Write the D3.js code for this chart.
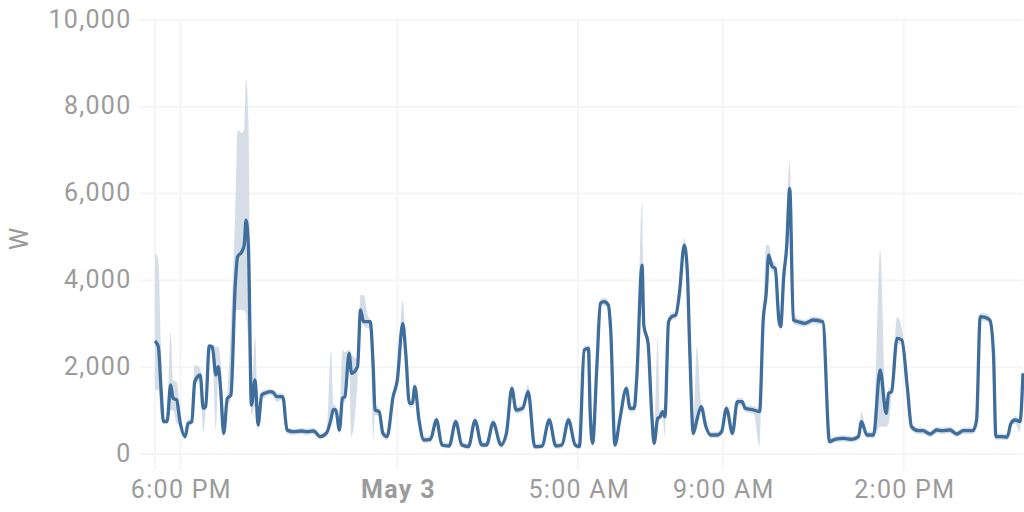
<!DOCTYPE html>
<html>
<head>
<meta charset="utf-8">
<script src="https://cdn.jsdelivr.net/npm/d3@7"></script>
<style>
  html, body { margin: 0; padding: 0; background: #ffffff; }
  svg { display: block; font-family: Roboto, "Noto Sans", sans-serif; }
</style>
</head>
<body>
<svg id="chart" width="1024" height="512"></svg>
<script>
// ---- data ----
const startTime = "2024-05-02T17:18:00";
const spanMinutes = 1440;
const minutes = [0,5.5,10,14,20,26,30,36,41,50,55,61,66,75,80,84,90,95,101,105,109,114,120,126,133,137,144,148,151,155,160,166,171,177,182,191,196,202,212,219,229,243,252,263,274,285,292,296,300,306,311,315,322,326,336,341,346,354,357,362,365,372,378,385,395,402,411,416,422,427,431,438,446,457,467,476,488,499,509,520,531,542,550,561,574,583,592,599,610,619,630,642,654,665,675,686,697,704,712,719,722,726,733,739,745,752,756,763,771,782,788,795,799,808,811,818,824,828,834,838,842,846,852,857,864,870,878,883,887,893,899,906,914,922,932,940,948,958,966,974,979,993,1003,1009,1014,1018,1024,1029,1035,1038,1043,1048,1053,1059,1067,1078,1092,1108,1119,1128,1142,1156,1167,1172,1181,1192,1203,1213,1217,1222,1231,1239,1248,1255,1266,1274,1286,1297,1305,1319,1330,1341,1357,1363,1369,1377,1385,1391,1395,1405,1414,1420,1427,1435,1440];
const meanW = [2604,2470,1500,745,745,1590,1283,1244,783,400,707,745,1666,1820,1053,1090,2488,2470,1820,2011,1475,476,1283,1360,3855,4545,4660,4815,5391,4776,1129,1705,668,1360,1398,1436,1420,1320,1320,553,514,530,514,530,400,492,800,1030,1010,553,1283,1320,2320,1860,2011,3318,3048,3048,3048,2011,1014,975,476,400,1320,1705,3011,2320,1168,1168,1551,783,323,338,783,207,184,745,207,169,768,207,207,722,207,476,1513,1014,1053,1436,169,184,783,184,207,783,207,169,2396,2435,937,246,2011,3472,3509,3433,2857,207,783,1513,1053,1053,1705,4354,2957,2550,937,246,822,860,975,860,3048,3164,3203,3702,4815,4239,2473,476,783,1091,630,438,438,514,1053,476,1206,1206,1053,1014,975,3087,3702,4585,4316,4278,3087,2934,4085,4777,6122,3087,3048,3011,3087,3048,284,338,361,338,400,745,438,438,1935,937,1398,1436,2665,2627,1551,630,537,537,461,553,537,553,461,537,537,783,3164,3149,3087,2320,400,400,392,707,783,745,1860];
const minW = [1475,1475,900,700,700,1000,1000,700,650,330,620,680,1500,1700,480,1000,2400,2350,550,1800,900,400,1100,1250,3300,3318,3318,3300,3200,2500,900,1100,550,1250,1300,1360,1330,1200,1250,480,440,460,440,460,340,420,700,950,900,450,1200,1200,2100,400,1700,3100,2950,2900,2900,323,900,880,400,320,1200,1600,2900,2200,1080,1080,1450,700,260,270,700,150,130,650,150,110,680,150,150,640,150,400,1420,930,970,1350,110,120,700,120,140,700,140,110,2300,2350,850,180,1900,3380,3420,3350,2750,140,700,1420,970,970,1600,4200,2850,2450,850,180,740,780,850,400,2950,3080,3120,3600,4700,4100,2350,400,700,1000,550,370,370,440,970,400,1120,1120,970,930,169,2950,3600,4450,4200,4150,2980,2850,3980,4650,5950,3000,2960,2930,3000,2960,220,270,290,270,330,660,370,370,630,630,700,1350,2550,2500,1450,550,460,460,390,480,460,480,390,460,460,700,3080,3060,3000,2200,330,330,320,620,700,500,1760];
const maxW = [4630,4470,2500,850,800,2818,1700,1666,1100,470,800,820,2050,1980,1200,1200,2520,2500,2470,2470,2100,600,1400,3000,5500,7465,7400,7500,8656,7700,1500,2703,900,1450,1480,1500,1480,1400,1400,620,580,600,580,600,470,560,2396,1150,1100,700,2396,2350,2400,2300,2200,3663,3663,3150,3100,2100,1100,1060,560,480,1420,1800,3548,2450,1250,1250,1650,870,400,420,870,280,250,830,280,240,850,280,280,800,280,560,1600,1100,1140,1590,240,250,870,250,280,870,280,240,2480,2500,2473,320,2100,3560,3600,3520,2950,280,870,1600,1140,1140,1800,5813,3100,2650,1030,320,2672,950,1060,950,3150,3250,3290,3800,4970,4400,2600,560,2473,1180,710,510,510,590,1140,560,1290,1290,1140,1100,1060,3200,4815,4815,4450,4400,3200,3050,4200,5500,6720,3300,3130,3090,3170,3130,350,410,430,410,470,975,510,510,4700,1100,1500,1550,3164,2900,1900,710,610,610,530,630,610,630,530,610,610,870,3250,3230,3170,2430,470,470,460,790,870,830,1960];

const yTicks = [0, 2000, 4000, 6000, 8000, 10000];
const xTickTimes = ["2024-05-02T18:00:00", "2024-05-03T00:00:00", "2024-05-03T05:00:00", "2024-05-03T09:00:00", "2024-05-03T14:00:00"];
const xTickLabels = ["6:00 PM", "May 3", "5:00 AM", "9:00 AM", "2:00 PM"];
const xTickBold = [false, true, false, false, false];
const unitLabel = "W";

// ---- layout ----
const svg = d3.select("#chart");
const plot = { left: 155, right: 1023, top: 20, bottom: 454 };
const textColor = "#9b9b9b";
const gridColor = "#f5f5f5";
const lineColor = "#3f6e9c";
const bandColor = "#d3dce6";
const fontSize = 25;
const spacing = 1.3;

const t0 = new Date(startTime);
const toDate = m => new Date(t0.getTime() + m * 60000);
const data = minutes.map((m, i) => ({ t: toDate(m), mean: meanW[i], lo: minW[i], hi: maxW[i] }));

const x = d3.scaleTime().domain([t0, toDate(spanMinutes)]).range([plot.left, plot.right]);
const y = d3.scaleLinear().domain([0, 10000]).range([plot.bottom, plot.top]);

// horizontal grid
const gGrid = svg.append("g");
gGrid.selectAll("line.h").data(yTicks).join("line")
  .attr("x1", 139).attr("x2", plot.right)
  .attr("y1", d => y(d)).attr("y2", d => y(d))
  .attr("stroke", gridColor).attr("stroke-width", 2);

// vertical grid (left edge + ticks)
const vTimes = [t0].concat(xTickTimes.map(s => new Date(s)));
gGrid.selectAll("line.v").data(vTimes).join("line")
  .attr("x1", d => x(d)).attr("x2", d => x(d))
  .attr("y1", plot.top).attr("y2", 470)
  .attr("stroke", gridColor).attr("stroke-width", 2);

// y axis labels
const fmt = d3.format(",");
const yAxis = d3.axisLeft(y).tickValues(yTicks).tickFormat(fmt).tickSize(0).tickPadding(0);
const gy = svg.append("g").attr("transform", "translate(131.5,0)").call(yAxis);
gy.select(".domain").remove();
gy.selectAll("text").attr("fill", textColor).attr("font-size", fontSize)
  .attr("letter-spacing", spacing)
  .attr("font-family", "Roboto, sans-serif").attr("dy", "0.28em");

// x axis labels
const xAxis = d3.axisBottom(x)
  .tickValues(xTickTimes.map(s => new Date(s)))
  .tickFormat((d, i) => xTickLabels[i]).tickSize(0).tickPadding(0);
const gx = svg.append("g").attr("transform", "translate(0.6,498)").call(xAxis);
gx.select(".domain").remove();
gx.selectAll("text").attr("fill", textColor).attr("font-size", fontSize)
  .attr("letter-spacing", spacing)
  .attr("font-family", "Roboto, sans-serif").attr("dy", 0)
  .attr("font-weight", (d, i) => xTickBold[i] ? "bold" : "normal");

// unit label
svg.append("text").attr("transform", "translate(28,239) rotate(-90)")
  .attr("text-anchor", "middle").attr("fill", textColor).attr("font-size", fontSize)
  .text(unitLabel);

// band
const area = d3.area().x(d => x(d.t)).y0(d => y(d.lo)).y1(d => y(d.hi)).curve(d3.curveMonotoneX);
svg.append("path").datum(data).attr("d", area).attr("fill", bandColor).attr("opacity", 0.95);

// mean line
const line = d3.line().x(d => x(d.t)).y(d => y(d.mean)).curve(d3.curveMonotoneX);
svg.append("path").datum(data).attr("d", line).attr("fill", "none")
  .attr("stroke", lineColor).attr("stroke-width", 3.3).attr("stroke-linejoin", "round");
</script>
</body>
</html>
